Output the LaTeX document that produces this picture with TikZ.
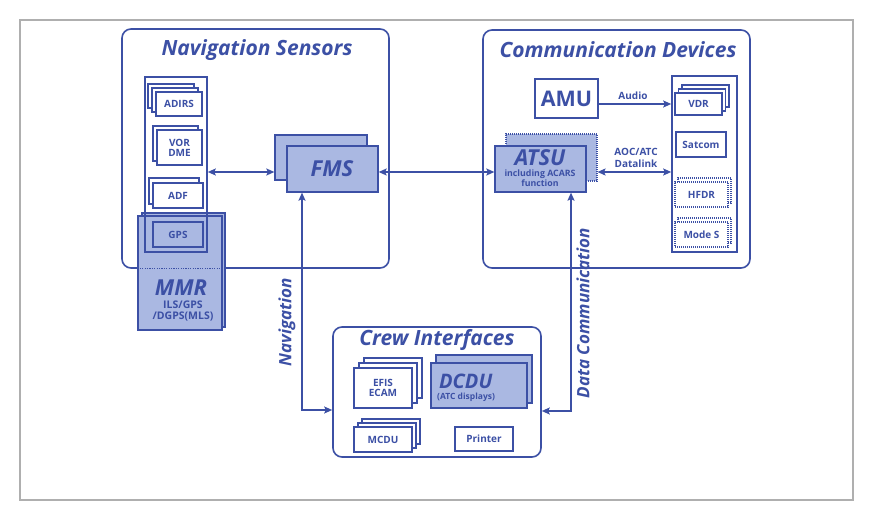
\documentclass[tikz,border=0pt]{standalone}
\usepackage{fontspec}
\setsansfont{Open Sans}
\usetikzlibrary{arrows.meta}
\definecolor{nb}{RGB}{60,80,165}
\definecolor{lb}{RGB}{170,184,226}
\definecolor{fr}{RGB}{175,175,175}
\newcommand{\fsz}[1]{\fontsize{#1}{#1}\selectfont}
\newcommand{\bx}[7]{\node[#6, minimum width={#4-#2}, minimum height={#5-#3}] (#1) at ({(#2+#4)/2},{(#3+#5)/2}) {#7};}
\begin{document}
\begin{tikzpicture}[x=1pt,y=-1pt,
  box/.style={draw=nb, line width=1.3pt, fill=white, inner sep=0pt, text=nb, align=center,
    font=\sffamily\bfseries\fsz{10}},
  fbox/.style={box, fill=lb},
  dbox/.style={box, line width=1.1pt, dash pattern=on 1pt off 1pt},
  dfbox/.style={dbox, fill=lb},
  colbox/.style={draw=nb, line width=1.6pt, inner sep=0pt},
  cont/.style={draw=nb, line width=1.6pt, rounded corners=9pt, inner sep=0pt},
  ttl/.style={text=nb, font=\sffamily\bfseries\itshape\fsz{21}, inner sep=0pt},
  big/.style={text=nb, font=\sffamily\bfseries\itshape\fsz{22}, inner sep=0pt},
  lbl/.style={text=nb, font=\sffamily\bfseries\fsz{10}, inner sep=0pt, align=center},
  vlbl/.style={text=nb, font=\sffamily\bfseries\itshape\fsz{17}, inner sep=0pt, rotate=90},
  conn/.style={draw=nb, line width=1.4pt, {Stealth[length=8pt,width=7pt,inset=1.5pt]}-{Stealth[length=8pt,width=7pt,inset=1.5pt]}},
  conr/.style={draw=nb, line width=1.4pt, -{Stealth[length=8pt,width=7pt,inset=1.5pt]}}
]
\useasboundingbox (0,0) rectangle (873,521);
\fill[white] (0,0) rectangle (873,521);
\bx{frame}{20}{20}{853}{500}{draw=fr, line width=1.4pt, inner sep=0pt}{}

% ---------- Navigation Sensors ----------
\bx{nav}{122}{29}{389}{268}{cont}{}
\node[ttl] (navT) at (257,50) {Navigation Sensors};
\bx{colL}{145}{77}{207}{252}{colbox, fill=white}{}
\bx{adirsA}{148}{84}{194}{108}{box}{}
\bx{adirsB}{152}{88}{198}{112}{box}{}
\bx{adirs}{156}{92}{202}{116}{box}{ADIRS}
\bx{vorB}{153}{126}{198}{161}{box}{}
\bx{vor}{157}{130}{202}{165}{box}{VOR\\DME}
\bx{adfB}{149}{178}{199}{204}{box}{}
\bx{adf}{153}{183}{203}{208}{box}{ADF}
\bx{mmrB}{142}{213}{225}{327}{fbox}{}
\bx{mmr}{138}{216}{222}{330}{fbox}{}
\draw[nb, line width=1.2pt, dash pattern=on 1.2pt off 1.2pt] (mmr.west |- nav.south) -- (mmr.east |- nav.south);
\node[big] (mmrT) at (181,288) {MMR};
\node[lbl, font=\sffamily\bfseries\fsz{10.5}] (mmrS) at (183,311) {ILS/GPS\\[1pt]/DGPS(MLS)};
\bx{colL2}{145}{77}{207}{252}{colbox}{}
\bx{gps}{153}{222}{203}{247}{fbox}{GPS}

% ---------- FMS ----------
\bx{fmsB}{275}{135}{367}{180}{fbox}{}
\bx{fms}{287}{146}{378}{192}{fbox}{}
\node[big] (fmsT) at (332,169) {FMS};

% ---------- Communication Devices ----------
\bx{com}{483}{30}{750}{268}{cont}{}
\node[ttl] (comT) at (618,50) {Communication Devices};
\bx{amu}{535}{79}{598}{118}{box, font=\sffamily\bfseries\fsz{21.5}}{AMU}
\bx{atsuB}{506}{134}{597}{181}{dfbox}{}
\bx{atsu}{495}{146}{586}{192}{fbox}{}
\node[big] (atsuT) at (540,158) {ATSU};
\node[lbl, font=\sffamily\bfseries\fsz{8.8}] (atsuS) at (540,178.5) {including ACARS\\function};
\bx{colR}{672}{76}{737}{252}{colbox, fill=white}{}
\bx{vdrA}{682}{85}{729}{107}{box}{}
\bx{vdrB}{678.5}{89}{725.5}{111}{box}{}
\bx{vdr}{675}{93}{722}{115}{box}{VDR}
\bx{satcom}{676}{132}{726}{157}{box}{Satcom}
\bx{hfdrB}{678}{178}{731}{203}{dbox}{}
\bx{hfdr}{675}{182}{728}{207}{dbox}{HFDR}
\bx{modesB}{678}{218}{731}{243}{dbox}{}
\bx{modes}{675}{222}{728}{247}{dbox}{Mode S}
\node[lbl] (audioT) at (633,96) {Audio};
\node[lbl] (aocT) at (636,158) {AOC/ATC\\[2pt]Datalink};

% ---------- Crew Interfaces ----------
\bx{crew}{333}{327}{541}{457}{cont}{}
\node[ttl] (crewT) at (437,340) {Crew Interfaces};
\bx{efisA}{364}{358}{422}{398}{box}{}
\bx{efisB}{359}{363}{417}{403}{box}{}
\bx{efis}{354}{368}{412}{408}{box}{EFIS\\ECAM}
\bx{dcduB}{436}{355}{532}{403}{fbox}{}
\bx{dcdu}{431}{363}{527}{408}{fbox}{}
\node[big, font=\sffamily\bfseries\itshape\fsz{20}, anchor=west] (dcduT) at (439,381) {DCDU};
\node[lbl, font=\sffamily\bfseries\fsz{8.5}, anchor=west] (dcduS) at (437,397) {(ATC displays)};
\bx{mcduA}{362}{419}{420}{444}{box}{}
\bx{mcduB}{358}{423}{416}{448}{box}{}
\bx{mcdu}{354}{427}{412}{452}{box}{MCDU}
\bx{printer}{455}{427}{513}{451}{box}{Printer}

% ---------- connectors ----------
\coordinate (fmsY) at (0,172);
\draw[conn] (colL.east |- fmsY) -- (fmsB.west |- fmsY);
\draw[conn] (fms.east |- fmsY) -- (atsu.west |- fmsY);
\draw[conn] (atsuB.east |- fmsY) -- (colR.west |- fmsY);
\draw[conr] (amu.east |- vdr.west) -- (colR.west |- vdr.west);
\coordinate (navc) at (302,410);
\draw[conn] (fms.south -| navc) -- (navc) -- (crew.west |- navc);
\coordinate (dcc) at (571,411);
\draw[conn] (atsu.south -| dcc) -- (dcc) -- (crew.east |- dcc);
\node[vlbl] (navL) at (287,322) {Navigation};
\node[vlbl] (dcL) at (583,313) {Data Communication};
\end{tikzpicture}
\end{document}
